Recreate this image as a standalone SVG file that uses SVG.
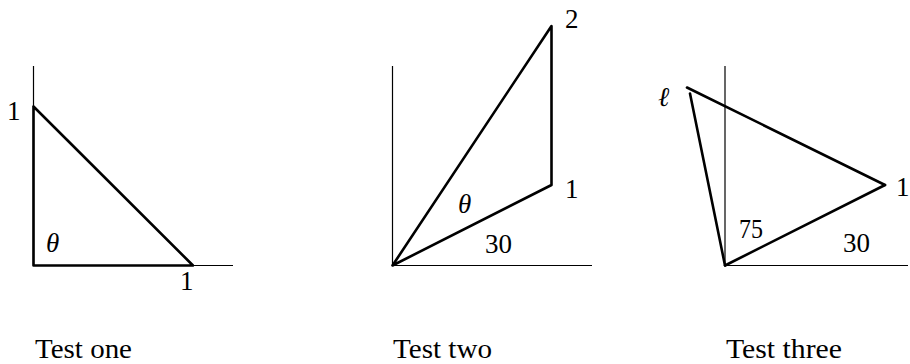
<svg xmlns="http://www.w3.org/2000/svg" width="910" height="364" viewBox="0 0 910 364" font-family="'Liberation Serif', 'DejaVu Serif', serif" font-size="26">
<style>
.axis{stroke:#000;stroke-width:1.2;fill:none}
.edge{stroke:#000;stroke-width:2.6;fill:none;stroke-linecap:round;stroke-linejoin:round}
.lbl{font-family:'Liberation Serif','DejaVu Serif',serif;font-size:27px;fill:#000}
.it{font-style:italic}
</style>
<rect width="910" height="364" fill="#fff"/>
<g id="connectors">
<g id="axes-one">
<line class="axis" x1="33.5" y1="66" x2="33.5" y2="266"/>
<line class="axis" x1="33.5" y1="265.5" x2="233" y2="265.5"/>
</g>
<g id="axes-two">
<line class="axis" x1="392.5" y1="66" x2="392.5" y2="266"/>
<line class="axis" x1="392.5" y1="265.5" x2="592" y2="265.5"/>
</g>
<g id="axes-three">
<line class="axis" x1="725" y1="66" x2="725" y2="266"/>
<line class="axis" x1="725" y1="265.5" x2="908" y2="265.5"/>
</g>
</g>
<g id="test-one">
<polyline class="edge" points="33.5,106.5 33.5,265.5 193,265.5 33.5,106.5"/>
<text class="lbl" x="7" y="120">1</text>
<text class="lbl" x="180" y="290">1</text>
<text class="lbl it" x="46" y="252">θ</text>
<text class="lbl" x="35" y="358" textLength="97" lengthAdjust="spacingAndGlyphs">Test one</text>
</g>
<g id="test-two">
<polyline class="edge" points="392.5,265.5 551.5,26 551.5,185 392.5,265.5"/>
<text class="lbl" x="565" y="28">2</text>
<text class="lbl" x="565" y="198">1</text>
<text class="lbl it" x="458" y="213">θ</text>
<text class="lbl" x="485" y="253" textLength="27" lengthAdjust="spacingAndGlyphs">30</text>
<text class="lbl" x="393" y="358" textLength="99" lengthAdjust="spacingAndGlyphs">Test two</text>
</g>
<g id="test-three">
<line class="edge" x1="687" y1="87.5" x2="885" y2="185"/>
<line class="edge" x1="690" y1="93.5" x2="725" y2="265.5"/>
<line class="edge" x1="725" y1="265.5" x2="885" y2="185"/>
<text class="lbl it" x="658" y="106">ℓ</text>
<text class="lbl" x="896" y="196">1</text>
<text class="lbl" x="739" y="238" textLength="24" lengthAdjust="spacingAndGlyphs">75</text>
<text class="lbl" x="843" y="252" textLength="27" lengthAdjust="spacingAndGlyphs">30</text>
<text class="lbl" x="726" y="358" textLength="116" lengthAdjust="spacingAndGlyphs">Test three</text>
</g>
</svg>
